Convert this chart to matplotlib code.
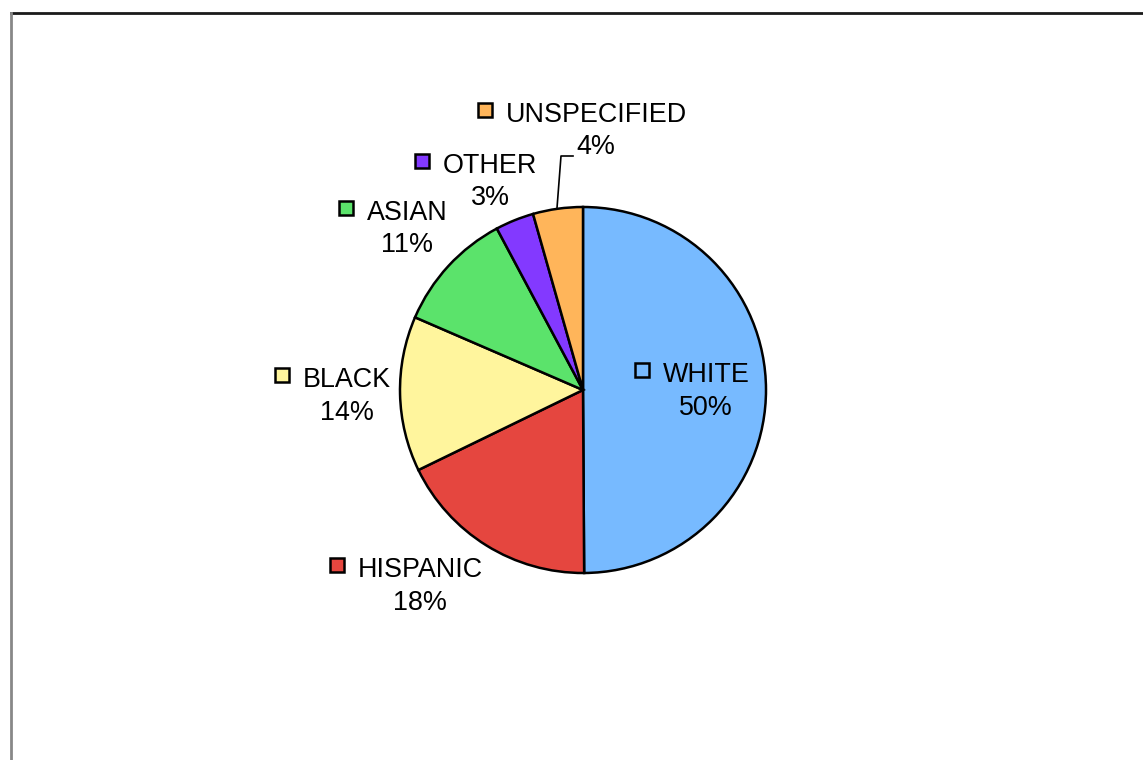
import matplotlib
matplotlib.use("Agg")
import matplotlib.pyplot as plt
from matplotlib.patches import Rectangle
from matplotlib.lines import Line2D

# ---- data ----
categories = ["WHITE", "HISPANIC", "BLACK", "ASIAN", "OTHER", "UNSPECIFIED"]
values = [49.9, 17.9, 13.7, 10.7, 3.4, 4.4]
colors = ["#77BAFF", "#E5463F", "#FFF59D", "#5BE36B", "#8339FF", "#FFB55A"]

# ---- layout (pixel coords, y from top): name center x, name baseline y, pct baseline y
label_pos = {
    "WHITE": (706, 382, 415),
    "HISPANIC": (420, 577, 610),
    "BLACK": (347, 387, 420),
    "ASIAN": (407, 220, 252),
    "OTHER": (490, 173, 205),
    "UNSPECIFIED": (596, 122, 154),
}

W, H = 1143, 760
fig = plt.figure(figsize=(W / 100, H / 100), dpi=100)
ax = fig.add_axes([0, 0, 1, 1])

def Y(y):
    return H - y

ax.pie(values, colors=colors, startangle=90, counterclock=False,
       center=(583, Y(390)), radius=183, frame=True,
       wedgeprops=dict(edgecolor="black", linewidth=1.8))
ax.set_xlim(0, W)
ax.set_ylim(0, H)
ax.set_aspect("auto")
ax.axis("off")

font = dict(family=["Liberation Sans", "DejaVu Sans"], size=19.4, color="black")
total = sum(values)
names = []
for cat, val, col in zip(categories, values, colors):
    cx, yb1, yb2 = label_pos[cat]
    t = ax.text(cx, Y(yb1), cat, ha="center", va="baseline", **font)
    ax.text(cx, Y(yb2), f"{round(val / total * 100):d}%", ha="center", va="baseline", **font)
    names.append((t, col, yb1))

fig.canvas.draw()
for t, col, yb1 in names:
    bb = t.get_window_extent()
    x0 = bb.x0
    size = 14
    gap = 13.5
    cy = yb1 - 12.5
    ax.add_patch(Rectangle((x0 - gap - size, Y(cy) - size / 2), size, size,
                           facecolor=col, edgecolor="black", linewidth=1.8))

# leader line for UNSPECIFIED
ax.add_line(Line2D([557, 561, 573], [Y(208), Y(156), Y(156)], color="black", linewidth=1.2))

# frame lines
fig.add_artist(Line2D([11 / W, 1], [1 - 12.5 / H, 1 - 12.5 / H], transform=fig.transFigure,
                      color="#1a1a1a", linewidth=2.0))
fig.add_artist(Line2D([11 / W, 11 / W], [0, 1 - 12.5 / H], transform=fig.transFigure,
                      color="#888888", linewidth=2.0))

fig.savefig("out.png", dpi=100)
